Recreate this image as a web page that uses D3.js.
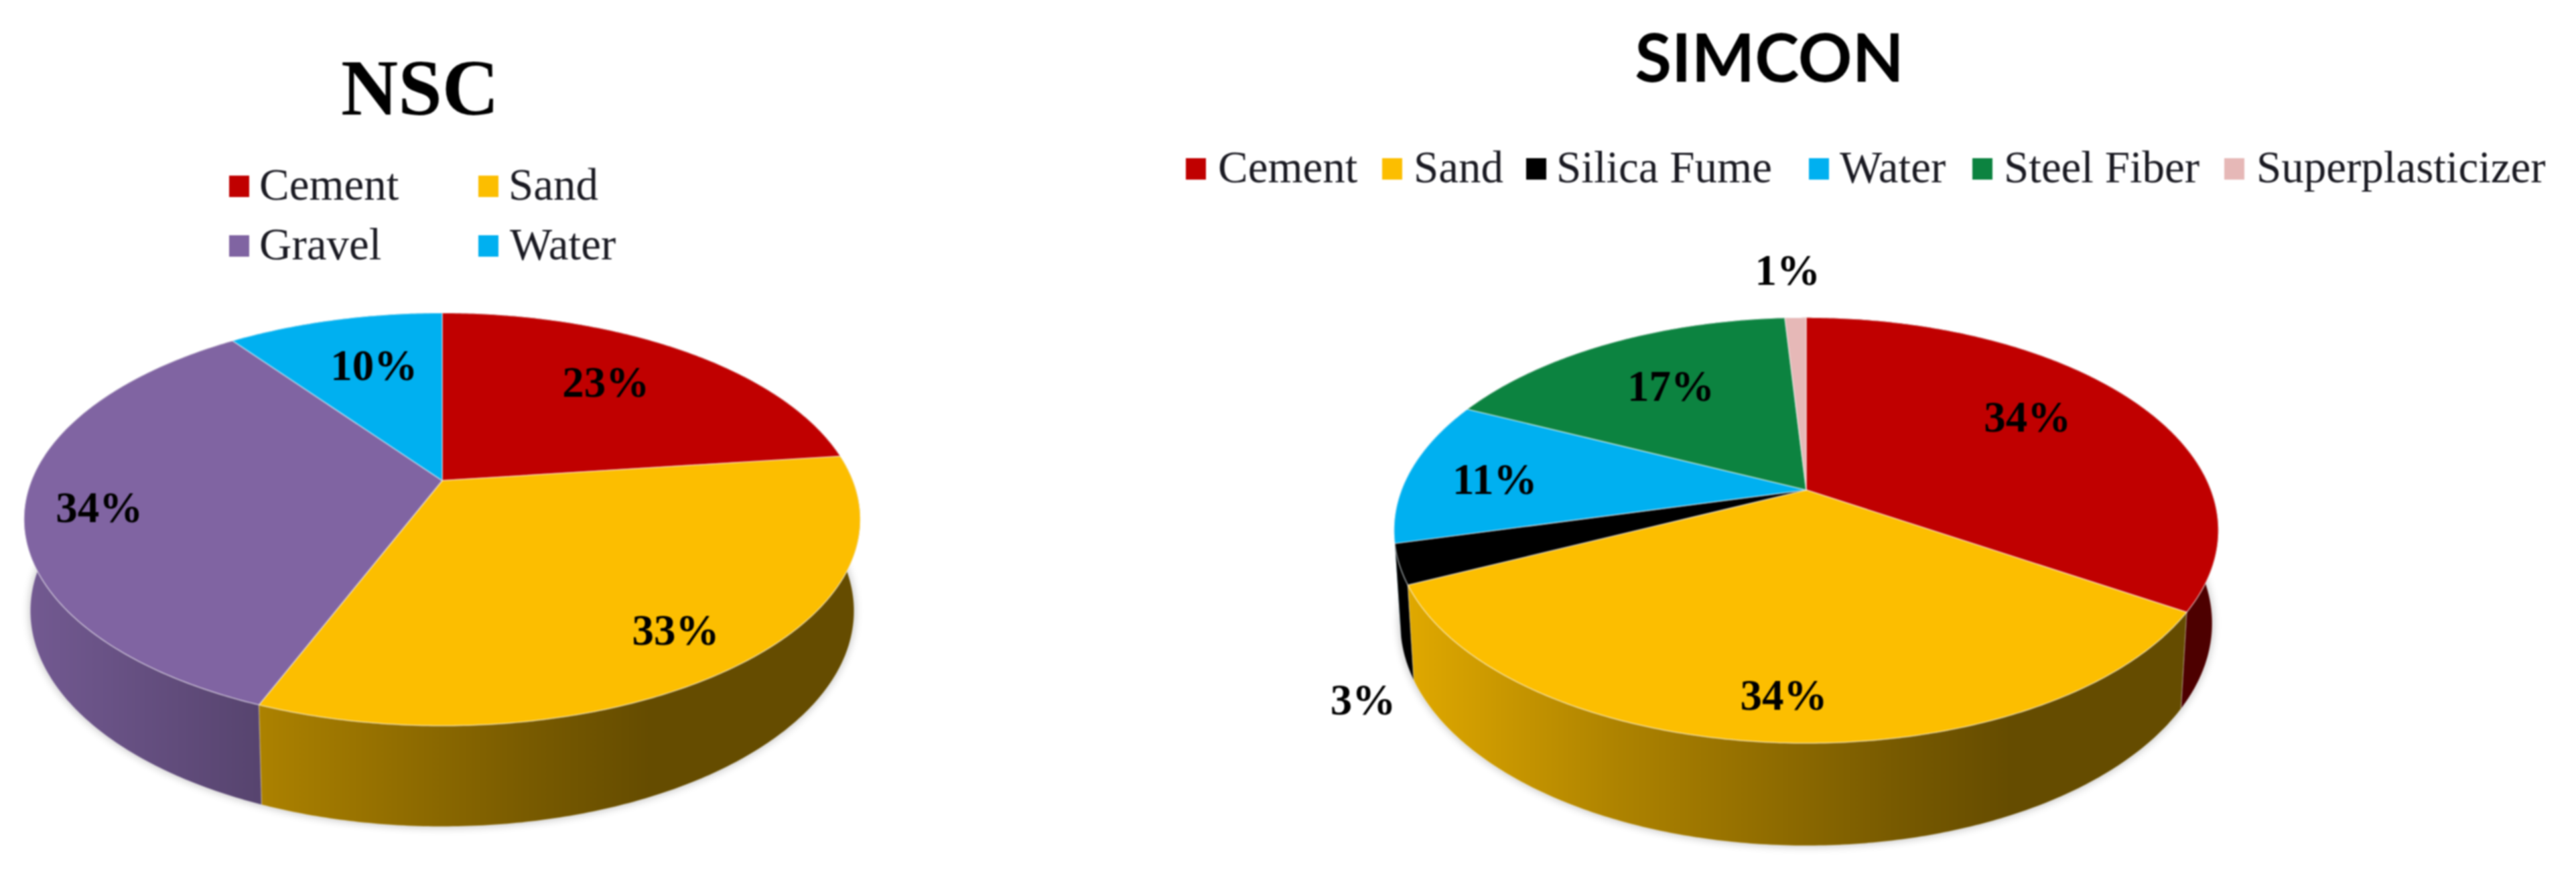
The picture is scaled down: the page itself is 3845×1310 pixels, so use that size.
<!DOCTYPE html>
<html>
<head>
<meta charset="utf-8">
<script src="https://cdn.jsdelivr.net/npm/d3@7"></script>
<style>
    body { margin: 0; background: #fff; }
    svg { display: block; }
    text { fill: #000; }
</style>
</head>
<body>
<div id="chartsContainer"></div>
<script>
// values
let nscCategories = ['Cement', 'Sand', 'Gravel', 'Water'];
let nscValues = [23, 33, 34, 10];
let nscColors = ['#c00000', '#fcbe00', '#8064a2', '#00b0f0'];

let simconCategories = ['Cement', 'Sand', 'Silica Fume', 'Water', 'Steel Fiber', 'Superplasticizer'];
let simconValues = [34, 34, 3, 11, 17, 1];
let simconColors = ['#c00000', '#fcbe00', '#000000', '#00b0f0', '#0c8340', '#e6b8b7'];

// how far each label sits from its anchor at 70% of the radius
let nscLabelShift = [[-14, 17], [55, 62], [-79, 36], [16, 26]];
let simconLabelShift = [[-18, 10], [-3, 82], [-245, 259], [-49, 26], [12, 27], [-16, -117]];

// legend layout: swatch x, text x, baseline y
let nscLegend = [[342, 387, 298], [714, 759, 298], [342, 387, 387], [714, 761, 387]];
let simconLegend = [[1770, 1818, 272], [2063, 2110, 272], [2278, 2323, 272], [2700, 2746, 272], [2944, 2991, 272], [3320, 3368, 272]];

// side wall shading across the width of the pie
let wallStops = [[0, 0.9], [0.27, 0.69], [0.6, 0.48], [0.75, 0.4], [1, 0.4]];

let svg = d3.select('#chartsContainer').append('svg')
    .attr('width', 3845)
    .attr('height', 1310);
let defs = svg.append('defs');
defs.append('filter')
    .attr('id', 'soft')
    .attr('x', '-5%').attr('y', '-5%').attr('width', '110%').attr('height', '110%')
    .append('feGaussianBlur')
    .attr('stdDeviation', 7);
let root = svg.append('g').style('filter', 'blur(1.3px)');

function drawPie(opts) {
    let g = root.append('g');
    let pie = d3.pie().sort(null).value(d => d)(opts.values);

    // perspective disc: near edge is larger than far edge
    function project(angle, r, wall) {
        let X = r * Math.sin(angle);
        let Z = -r * Math.cos(angle);
        let den = 1 - opts.k * Z;
        if (wall) {
            return [opts.cx + 0.985 * opts.B * X / den, opts.cy + opts.drop + 1.045 * opts.A * Z / den];
        }
        return [opts.cx + opts.B * X / den, opts.cy + opts.A * Z / den];
    }

    function arcPoints(d, wall) {
        let n = Math.max(2, Math.ceil((d.endAngle - d.startAngle) / 0.01));
        return d3.range(n + 1).map(i => {
            let a = d.startAngle + (d.endAngle - d.startAngle) * i / n;
            return project(a, 1, wall);
        });
    }

    let line = d3.line();
    let left = opts.cx - opts.halfWidth;
    let right = opts.cx + opts.halfWidth;

    let wallPath = d => line(arcPoints(d, false).concat(arcPoints(d, true).reverse())) + 'Z';
    let midAngle = d => (d.startAngle + d.endAngle) / 2;

    // soft shadow under the wall
    g.append('path')
        .attr('d', line(arcPoints({ startAngle: 0, endAngle: 2 * Math.PI }, true)) + 'Z')
        .attr('fill', '#000')
        .attr('opacity', 0.28)
        .attr('filter', 'url(#soft)');

    pie.forEach((d, i) => {
        let gradId = opts.id + '-wall-' + i;
        let grad = defs.append('linearGradient')
            .attr('id', gradId)
            .attr('gradientUnits', 'userSpaceOnUse')
            .attr('x1', left).attr('x2', right)
            .attr('y1', 0).attr('y2', 0);
        let base = d3.rgb(opts.colors[i]);
        wallStops.forEach(s => {
            grad.append('stop')
                .attr('offset', s[0])
                .attr('stop-color', d3.rgb(base.r * s[1], base.g * s[1], base.b * s[1]).formatHex());
        });
    });

    // back walls first so the nearer slices cover them
    g.selectAll('.wall')
        .data(pie)
        .enter().append('path')
        .attr('class', 'wall')
        .attr('d', wallPath)
        .attr('fill', (d, i) => 'url(#' + opts.id + '-wall-' + i + ')')
        .attr('stroke', '#fff')
        .attr('stroke-opacity', 0.25)
        .attr('stroke-width', 1.5)
        .sort((a, b) => Math.cos(midAngle(b)) - Math.cos(midAngle(a)));

    g.selectAll('.slice')
        .data(pie)
        .enter().append('path')
        .attr('class', 'slice')
        .attr('d', d => line([project(0, 0)].concat(arcPoints(d, false))) + 'Z')
        .attr('fill', (d, i) => opts.colors[i])
        .attr('stroke', '#fff')
        .attr('stroke-opacity', 0.4)
        .attr('stroke-width', 2)
        .attr('stroke-linejoin', 'round');

    g.selectAll('.pct')
        .data(pie)
        .enter().append('text')
        .attr('class', 'pct')
        .attr('x', (d, i) => project(midAngle(d), 0.7)[0] + opts.labelShift[i][0])
        .attr('y', (d, i) => project(midAngle(d), 0.7)[1] + opts.labelShift[i][1])
        .attr('text-anchor', 'middle')
        .style('font-family', '"Liberation Serif"')
        .style('font-weight', 'bold')
        .style('font-size', '65px')
        .text(d => d.data + '%');

    g.selectAll('.swatch')
        .data(opts.categories)
        .enter().append('rect')
        .attr('class', 'swatch')
        .attr('x', (d, i) => opts.legend[i][0])
        .attr('y', (d, i) => opts.legend[i][2] - 36)
        .attr('width', 30)
        .attr('height', 32)
        .attr('fill', (d, i) => opts.colors[i]);

    g.selectAll('.legend')
        .data(opts.categories)
        .enter().append('text')
        .attr('class', 'legend')
        .attr('x', (d, i) => opts.legend[i][1])
        .attr('y', (d, i) => opts.legend[i][2])
        .style('font-family', '"Liberation Serif"')
        .style('font-size', '67px')
        .style('fill', '#1a1a22')
        .text(d => d);

    g.append('text')
        .attr('x', opts.titleX)
        .attr('y', opts.titleY)
        .attr('text-anchor', 'middle')
        .style('font-family', opts.titleFont)
        .style('font-weight', 'bold')
        .style('font-size', opts.titleSize + 'px')
        .text(opts.title);
}

drawPie({
    id: 'nsc', title: 'NSC', titleX: 627, titleY: 171, titleFont: '"Liberation Serif"', titleSize: 118,
    categories: nscCategories, values: nscValues, colors: nscColors,
    labelShift: nscLabelShift, legend: nscLegend,
    cx: 660, cy: 717, A: 297, B: 613, k: 0.188, drop: 134, halfWidth: 624
});

drawPie({
    id: 'simcon', title: 'SIMCON', titleX: 2641, titleY: 122, titleFont: 'Lato', titleSize: 100,
    categories: simconCategories, values: simconValues, colors: simconColors,
    labelShift: simconLabelShift, legend: simconLegend,
    cx: 2696, cy: 731, A: 306, B: 604, k: 0.19, drop: 136, halfWidth: 615
});
</script>
</body>
</html>
